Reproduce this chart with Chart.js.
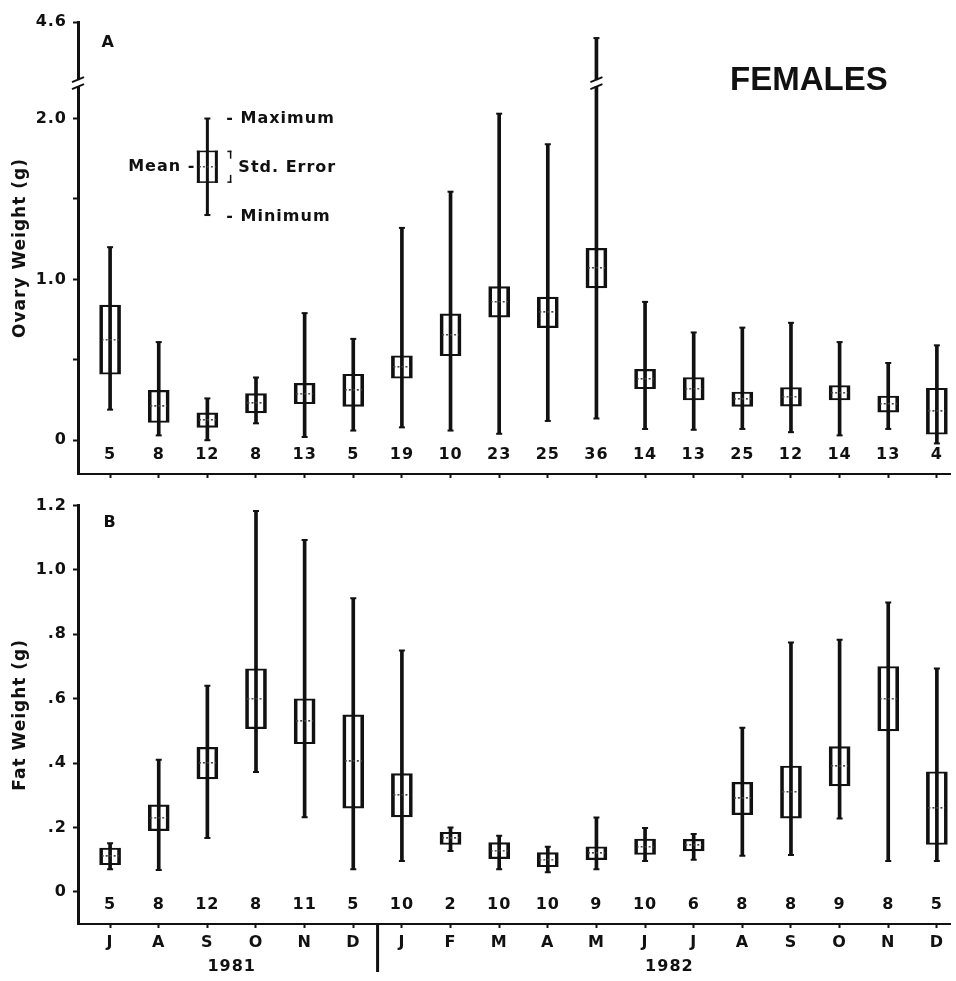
<!DOCTYPE html>
<html>
<head>
<meta charset="utf-8">
<script src="https://cdn.jsdelivr.net/npm/chart.js@4.4.0/dist/chart.umd.min.js"></script>
<style>
  body { margin: 0; background: #fff; }
  #wrap { position: relative; width: 956px; height: 981px; }
  canvas { position: absolute; left: 0; }
</style>
</head>
<body>
<div id="wrap">
  <canvas id="chartA" width="956" height="490" style="top:0"></canvas>
  <canvas id="chartB" width="956" height="491" style="top:490px"></canvas>
</div>
<script>
/* Data section */
var months = ['J', 'A', 'S', 'O', 'N', 'D', 'J', 'F', 'M', 'A', 'M', 'J', 'J', 'A', 'S', 'O', 'N', 'D'];
var years = ['1981', '1982'];
var yearCenters = [2.5, 11.5];

// A: ovary weight (g)
var ovaryMean = [0.625, 0.21, 0.125, 0.23, 0.29, 0.31, 0.455, 0.655, 0.86, 0.795, 1.07, 0.38, 0.32, 0.255, 0.27, 0.295, 0.225, 0.18];
var ovarySE = [0.215, 0.10, 0.045, 0.06, 0.063, 0.10, 0.07, 0.13, 0.095, 0.095, 0.123, 0.06, 0.07, 0.045, 0.058, 0.045, 0.05, 0.143];
var ovaryMin = [0.19, 0.03, 0.0, 0.105, 0.02, 0.06, 0.08, 0.06, 0.04, 0.12, 0.135, 0.07, 0.065, 0.07, 0.05, 0.03, 0.07, -0.02];
var ovaryMax = [1.20, 0.61, 0.26, 0.39, 0.79, 0.63, 1.32, 1.545, 2.03, 1.84, 4.5, 0.86, 0.67, 0.70, 0.73, 0.61, 0.48, 0.59];
var ovaryN = [5, 8, 12, 8, 13, 5, 19, 10, 23, 25, 36, 14, 13, 25, 12, 14, 13, 4];
var ovaryTicks = [0, 0.5, 1.0, 1.5, 2.0, 4.6];
var ovaryTickLabels = ['0', '', '1.0', '', '2.0', '4.6'];

// B: fat weight (g)
var fatMean = [0.11, 0.23, 0.40, 0.60, 0.53, 0.405, 0.30, 0.166, 0.128, 0.10, 0.12, 0.14, 0.145, 0.29, 0.31, 0.39, 0.60, 0.26];
var fatSE = [0.026, 0.04, 0.049, 0.093, 0.07, 0.145, 0.067, 0.019, 0.025, 0.022, 0.02, 0.024, 0.018, 0.05, 0.081, 0.061, 0.10, 0.113];
var fatMin = [0.07, 0.068, 0.167, 0.372, 0.232, 0.07, 0.096, 0.127, 0.07, 0.061, 0.07, 0.096, 0.10, 0.112, 0.114, 0.228, 0.096, 0.096];
var fatMax = [0.151, 0.41, 0.64, 1.183, 1.093, 0.912, 0.75, 0.20, 0.174, 0.14, 0.231, 0.198, 0.18, 0.51, 0.775, 0.783, 0.899, 0.694];
var fatN = [5, 8, 12, 8, 11, 5, 10, 2, 10, 10, 9, 10, 6, 8, 8, 9, 8, 5];
var fatTicks = [0, 0.2, 0.4, 0.6, 0.8, 1.0, 1.2];
var fatTickLabels = ['0', '.2', '.4', '.6', '.8', '1.0', '1.2'];

var ink = '#111';
var family = '"DejaVu Sans", sans-serif';
var numFont = { family: family, size: 16, weight: 'bold' };

// ovary axis is broken between 2.2 and 4.2 g
var breakAt = 2.22;
function ovaryAxis(v) { return v > 2.2 ? v - 2.0 : v; }
function plain(v) { return v; }

// dotted stroke used as point style for the means
var meanDash = document.createElement('canvas');
meanDash.width = 17;
meanDash.height = 2;
var mctx = meanDash.getContext('2d');
mctx.fillStyle = '#444';
for (var k = 0; k < 17; k += 4) mctx.fillRect(k, 0, 2, 1.5);

function boxDatasets(mean, se, min, max, conv) {
    var whisker = [], box = [], means = [], ends = [];
    for (var i = 0; i < mean.length; i++) {
        whisker.push({ x: i, y: [conv(min[i]), conv(max[i])] });
        box.push({ x: i, y: [conv(mean[i] - se[i]), conv(mean[i] + se[i])] });
        means.push({ x: i, y: conv(mean[i]) });
        ends.push({ x: i, y: conv(min[i]) }, { x: i, y: conv(max[i]) });
    }
    return [
        { type: 'scatter', data: means, pointStyle: meanDash, order: 0 },
        { type: 'scatter', data: ends, pointStyle: 'line', radius: 3, borderWidth: 2, borderColor: ink, order: 0 },
        {
            type: 'bar', data: box, grouped: false, barThickness: 21,
            backgroundColor: 'rgba(0,0,0,0)', borderColor: ink,
            borderWidth: { left: 3, right: 3, top: 1.5, bottom: 1.5 }, borderSkipped: false, order: 1
        },
        { type: 'bar', data: whisker, grouped: false, barThickness: 3, backgroundColor: ink, borderWidth: 0, order: 2 }
    ];
}

function xScale(showLabels, height) {
    return {
        type: 'linear', min: -0.66, max: 17.27, offset: false,
        afterBuildTicks: function (s) { s.ticks = months.map(function (m, i) { return { value: i }; }); },
        afterFit: function (s) { s.height = height; },
        ticks: {
            display: showLabels, color: ink, font: numFont, padding: 5, maxRotation: 0, autoSkip: false,
            callback: function (v, i) { return months[i]; }
        },
        grid: { offset: false, drawOnChartArea: false, color: ink, tickLength: 4, tickWidth: 2 },
        border: { color: ink, width: 2 }
    };
}

function yScale(min, max, ticks, labels, conv, title) {
    return {
        min: min, max: max,
        afterBuildTicks: function (s) { s.ticks = ticks.map(function (v) { return { value: conv(v) }; }); },
        afterFit: function (s) { s.width = 78; },
        ticks: {
            color: ink, font: numFont, padding: 6,
            callback: function (v, i) { return labels[i]; }
        },
        grid: { drawOnChartArea: false, color: ink, tickLength: 5, tickWidth: 2 },
        border: { color: ink, width: 3 },
        title: { display: true, text: title, color: ink, font: { family: family, size: 17, weight: 'bold' }, padding: { top: 10, bottom: 0 } }
    };
}

function spacing(chart) { chart.ctx.letterSpacing = '1px'; }

function countRow(chart, counts) {
    var ctx = chart.ctx, xs = chart.scales.x;
    ctx.font = 'bold 16px ' + family;
    ctx.fillStyle = ink;
    ctx.textAlign = 'center';
    ctx.textBaseline = 'middle';
    counts.forEach(function (n, i) {
        ctx.fillText(String(n), xs.getPixelForValue(i), chart.chartArea.bottom - 19);
    });
}

function breakMarks(ctx, x, y, half) {
    ctx.fillStyle = '#fff';
    ctx.fillRect(x - half, y - 3, half * 2, 6);
    ctx.strokeStyle = ink;
    ctx.lineWidth = 2;
    ctx.beginPath();
    ctx.moveTo(x - 6, y - 1); ctx.lineTo(x + 6, y - 6);
    ctx.moveTo(x - 6, y + 6); ctx.lineTo(x + 6, y + 1);
    ctx.stroke();
}

/* Panel A extras */
var extrasA = {
    id: 'extrasA',
    beforeDraw: spacing,
    afterDraw: function (chart) {
        var ctx = chart.ctx, xs = chart.scales.x, ys = chart.scales.y;
        ctx.save();
        countRow(chart, ovaryN);

        var yb = ys.getPixelForValue(breakAt);
        breakMarks(ctx, chart.chartArea.left, yb, 4);
        breakMarks(ctx, xs.getPixelForValue(10), yb, 4);

        ctx.fillStyle = ink;
        ctx.textAlign = 'center';
        ctx.font = 'bold 16px ' + family;
        ctx.fillText('A', xs.getPixelForValue(0) - 2, 43);

        ctx.textAlign = 'left';
        ctx.font = 'bold 33px "Liberation Sans", Arial, sans-serif';
        ctx.letterSpacing = '0px';
        ctx.fillText('FEMALES', 730, 81);

        // key glyph
        var kx = xs.getPixelForValue(2);
        var kMax = ys.getPixelForValue(2.0), kMin = ys.getPixelForValue(1.4);
        var kHi = ys.getPixelForValue(1.8), kLo = ys.getPixelForValue(1.6), kMid = ys.getPixelForValue(1.7);
        ctx.fillRect(kx - 1.5, kMax, 3, kMin - kMax);
        ctx.fillRect(kx - 3, kMax - 1, 6, 2);
        ctx.fillRect(kx - 3, kMin - 1, 6, 2);
        ctx.fillRect(kx - 10.5, kHi, 3, kLo - kHi);
        ctx.fillRect(kx + 7.5, kHi, 3, kLo - kHi);
        ctx.fillRect(kx - 10.5, kHi, 21, 1.5);
        ctx.fillRect(kx - 10.5, kLo - 1.5, 21, 1.5);
        ctx.drawImage(meanDash, kx - 8.5, kMid - 1);
        // small bracket for std. error
        ctx.fillRect(kx + 20, kHi, 4, 1.5);
        ctx.fillRect(kx + 22.5, kHi, 1.5, 8);
        ctx.fillRect(kx + 20, kLo - 1.5, 4, 1.5);
        ctx.fillRect(kx + 22.5, kLo - 8, 1.5, 8);

        ctx.letterSpacing = '1px';
        ctx.font = 'bold 16px ' + family;
        ctx.fillText('- Maximum', kx + 19, kMax);
        ctx.fillText('Std. Error', kx + 31, kMid + 1);
        ctx.fillText('- Minimum', kx + 19, kMin + 2);
        ctx.textAlign = 'right';
        ctx.fillText('Mean -', kx - 12, kMid);
        ctx.restore();
    }
};

/* Panel B extras */
var extrasB = {
    id: 'extrasB',
    beforeDraw: spacing,
    afterDraw: function (chart) {
        var ctx = chart.ctx, xs = chart.scales.x;
        ctx.save();
        countRow(chart, fatN);
        ctx.fillStyle = ink;
        ctx.textAlign = 'center';
        ctx.textBaseline = 'middle';
        ctx.font = 'bold 16px ' + family;
        ctx.fillText('B', xs.getPixelForValue(0), 33);
        years.forEach(function (y, i) {
            ctx.fillText(y, xs.getPixelForValue(yearCenters[i]), chart.chartArea.bottom + 43);
        });
        // divider between the two years
        var sx = xs.getPixelForValue(5.5);
        ctx.fillRect(sx - 1.5, chart.chartArea.bottom, 3, 48);
        ctx.restore();
    }
};

/* Chart section */
var chartA = new Chart(document.getElementById('chartA'), {
    type: 'bar',
    data: { datasets: boxDatasets(ovaryMean, ovarySE, ovaryMin, ovaryMax, ovaryAxis) },
    options: {
        responsive: false, animation: false, devicePixelRatio: 1, events: [],
        layout: { padding: { top: 22, right: 4, left: 0, bottom: 0 } },
        plugins: { legend: { display: false }, tooltip: { enabled: false } },
        scales: {
            x: xScale(false, 16),
            y: yScale(-0.21, 2.6, ovaryTicks, ovaryTickLabels, ovaryAxis, 'Ovary Weight (g)')
        }
    },
    plugins: [extrasA]
});

var chartB = new Chart(document.getElementById('chartB'), {
    type: 'bar',
    data: { datasets: boxDatasets(fatMean, fatSE, fatMin, fatMax, plain) },
    options: {
        responsive: false, animation: false, devicePixelRatio: 1, events: [],
        layout: { padding: { top: 15, right: 4, left: 0, bottom: 0 } },
        plugins: { legend: { display: false }, tooltip: { enabled: false } },
        scales: {
            x: xScale(true, 57),
            y: yScale(-0.1, 1.2, fatTicks, fatTickLabels, plain, 'Fat Weight (g)')
        }
    },
    plugins: [extrasB]
});
</script>
</body>
</html>
